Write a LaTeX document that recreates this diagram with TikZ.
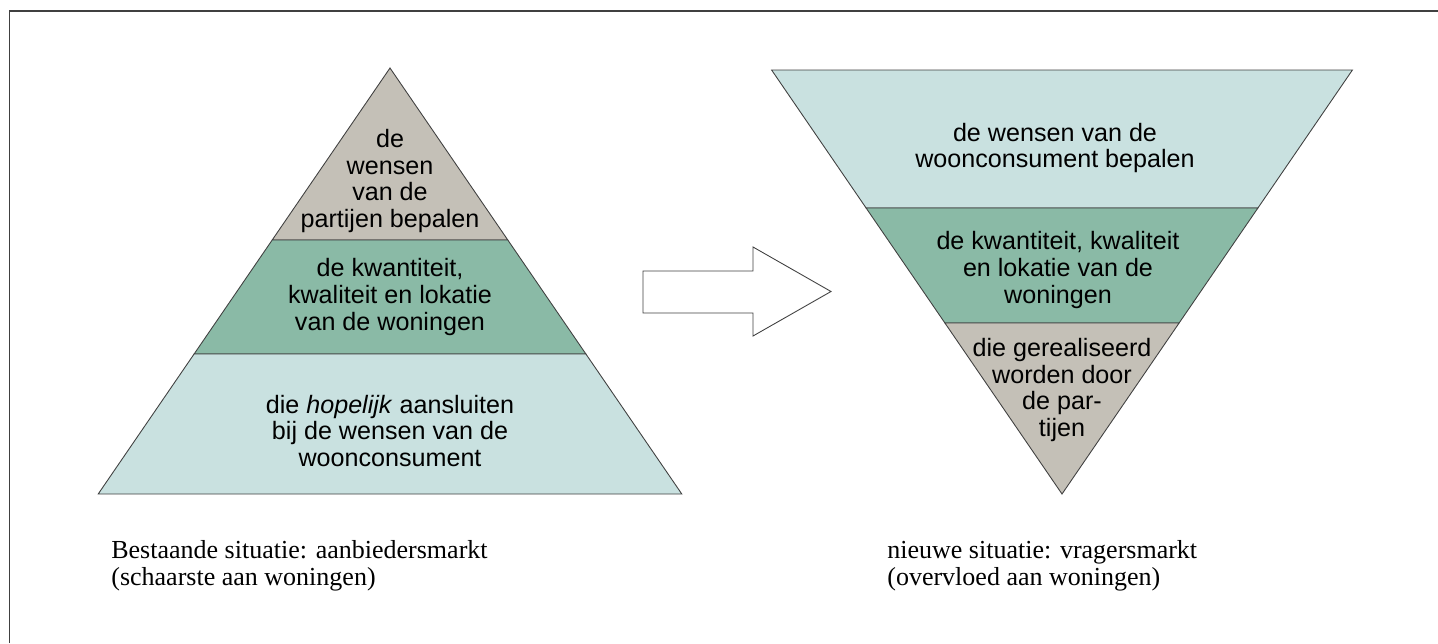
\documentclass[tikz,border=0pt]{standalone}
\usepackage{fontspec}
\setmainfont{Liberation Serif}
\setsansfont{Liberation Sans}
\definecolor{bandgray}{RGB}{196,192,183}
\definecolor{bandgreen}{RGB}{138,186,166}
\definecolor{bandblue}{RGB}{201,225,224}
\definecolor{edgegray}{RGB}{64,64,64}
\begin{document}
\begin{tikzpicture}[scale=0.2,
        band/.style={draw=edgegray, line width=0.5pt},
        lbl/.style={align=center, inner sep=0pt, text=black, font=\sffamily\fontsize{14.3}{15.3}\selectfont},
        captext/.style={align=left, inner sep=0pt, anchor=north west, font=\fontsize{14.8}{15.4}\selectfont}]
        \useasboundingbox (0,0) rectangle (143.8,-64.3);
        \draw [edgegray, line width=1.1pt] (0.95,-64.3) -- (0.95,-1.1) -- (143.8,-1.1);
        % left pyramid
        \draw [band, fill=bandgray] (39.0,-6.8) -- (50.78,-24.0) -- (27.22,-24.0) -- cycle;
        \draw [band, fill=bandgreen] (27.22,-24.0) -- (50.78,-24.0) -- (58.59,-35.4) -- (19.41,-35.4) -- cycle;
        \draw [band, fill=bandblue] (19.41,-35.4) -- (58.59,-35.4) -- (68.18,-49.4) -- (9.82,-49.4) -- cycle;
        \node [lbl] (lgray) at (39.0,-18.1) {de\\wensen\\van de\\partijen bepalen};
        \node [lbl] (lgreen) at (39.0,-29.7) {de kwantiteit,\\kwaliteit en lokatie\\van de woningen};
        \node [lbl] (lblue) at (39.0,-43.1) {die \textit{hopelijk} aansluiten\\bij de wensen van de\\woonconsument};
        % arrow
        \draw [edgegray, line width=0.5pt, fill=white] (64.3,-27.1) -- (75.3,-27.1) -- (75.3,-24.7) -- (83.1,-29.15)
            -- (75.3,-33.6) -- (75.3,-31.3) -- (64.3,-31.3) -- cycle;
        % right funnel
        \draw [band, fill=bandblue] (77.16,-7.0) -- (135.24,-7.0) -- (125.79,-20.8) -- (86.61,-20.8) -- cycle;
        \draw [band, fill=bandgreen] (86.61,-20.8) -- (125.79,-20.8) -- (117.91,-32.3) -- (94.49,-32.3) -- cycle;
        \draw [band, fill=bandgray] (94.49,-32.3) -- (117.91,-32.3) -- (106.2,-49.4) -- cycle;
        \node [lbl] (rblue) at (105.5,-14.8) {de wensen van de\\woonconsument bepalen};
        \node [lbl] (rgreen) at (105.8,-27.0) {de kwantiteit, kwaliteit\\en lokatie van de\\woningen};
        \node [lbl] (rgray) at (106.2,-39.0) {die gerealiseerd\\worden door\\de par-\\tijen};
        % captions
        \node [captext] (lcap) at (11.1,-54.0) {Bestaande situatie: aanbiedersmarkt\\(schaarste aan woningen)};
        \node [captext] (rcap) at (88.7,-54.0) {nieuwe situatie: vragersmarkt\\(overvloed aan woningen)};
    \end{tikzpicture}
\end{document}
